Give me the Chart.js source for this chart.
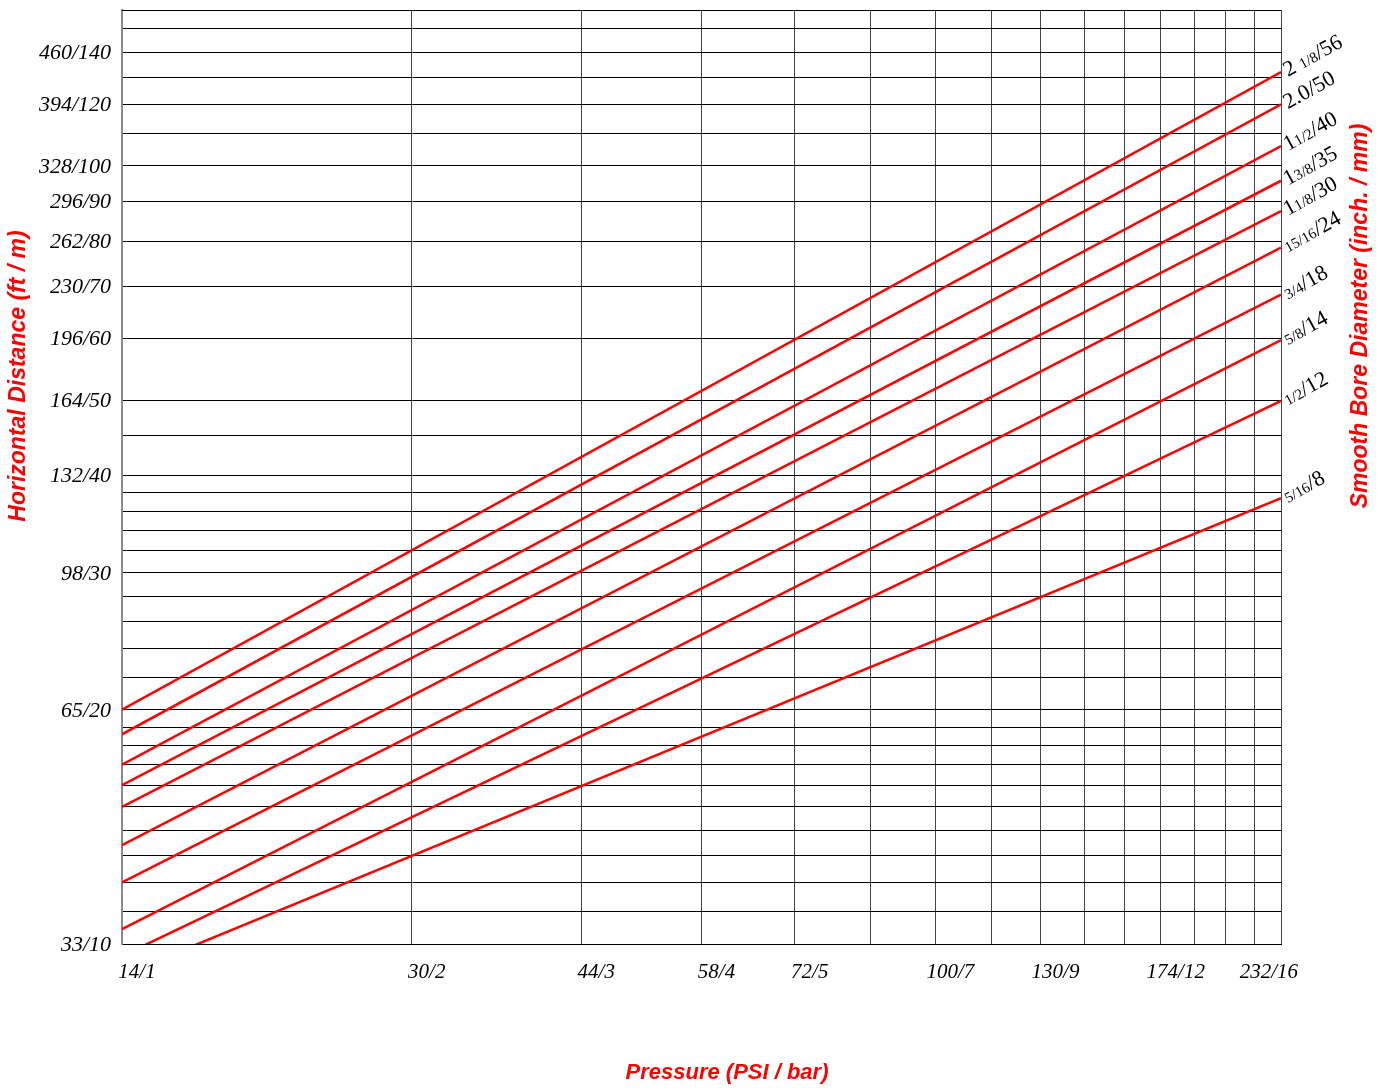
<!DOCTYPE html>
<html>
<head>
<meta charset="utf-8">
<script src="https://cdn.jsdelivr.net/npm/chart.js@4.4.0/dist/chart.umd.min.js"></script>
<style>
  body { margin: 0; background: #fff; }
  canvas { display: block; }
</style>
</head>
<body>
<canvas id="chart" width="1389" height="1091"></canvas>
<script>
// pressure in bar (x, log) and horizontal distance in m (y, log)
const xGrid = [1, 2, 3, 4, 5, 6, 7, 8, 9, 10, 11, 12, 13, 14, 15, 16]
const xTickBar = [1, 2, 3, 4, 5, 7, 9, 12, 16]
const xTickPsi = [14, 30, 44, 58, 72, 100, 130, 174, 232]

const yGrid = [10, 11, 12, 13, 14, 15, 16, 17, 18, 19, 20, 22, 24, 26, 28, 30, 32, 34, 36, 38, 40, 45,
               50, 60, 70, 80, 90, 100, 110, 120, 130, 140, 150]
const yTickM = [10, 20, 30, 40, 50, 60, 70, 80, 90, 100, 120, 140]
const yTickFt = [33, 65, 98, 132, 164, 196, 230, 262, 296, 328, 394, 460]

// each line: distance at 1 bar and at 16 bar
const pressureEnds = [1, 16]
const dist56 = [20, 132]
const dist50 = [18.6, 120]
const dist40 = [17.0, 106]
const dist35 = [16.0, 95.7]
const dist30 = [15.0, 87.5]
const dist24 = [13.4, 78.5]
const dist18 = [12.0, 68.3]
const dist14 = [10.45, 59.7]
const dist12 = [9.65, 49.9]
const dist8 = [9.12, 37.4]

// nozzle labels, [text, small]
const nozzleLabels = [
    [['2 ', 0], ['1/8', 1], ['/56', 0]],
    [['2.0/50', 0]],
    [['1', 0], ['1/2', 1], ['/40', 0]],
    [['1', 0], ['3/8', 1], ['/35', 0]],
    [['1', 0], ['1/8', 1], ['/30', 0]],
    [['15/16', 1], ['/24', 0]],
    [['3/4', 1], ['/18', 0]],
    [['5/8', 1], ['/14', 0]],
    [['1/2', 1], ['/12', 0]],
    [['5/16', 1], ['/8', 0]]
]
const allDist = [dist56, dist50, dist40, dist35, dist30, dist24, dist18, dist14, dist12, dist8]

const datasets = allDist.map(d => ({
    data: pressureEnds.map((p, i) => ({x: p, y: d[i]})),
    borderColor: '#ff0000',
    borderWidth: 2.5,
    pointRadius: 0,
    showLine: true,
    fill: false
}))

const serif = '"Liberation Serif", "Times New Roman", serif'
const sans = '"Liberation Sans", Arial, sans-serif'

const labelsPlugin = {
    id: 'labels',
    afterDraw(chart) {
        const ctx = chart.ctx
        const xs = chart.scales.x, ys = chart.scales.y
        const area = chart.chartArea
        ctx.save()

        // top border
        ctx.strokeStyle = '#000'
        ctx.lineWidth = 1
        ctx.beginPath()
        ctx.moveTo(area.left, area.top + 0.5)
        ctx.lineTo(area.right, area.top + 0.5)
        ctx.stroke()

        // y tick labels
        ctx.fillStyle = '#000'
        ctx.font = 'italic 22px ' + serif
        ctx.textAlign = 'right'
        ctx.textBaseline = 'middle'
        yTickM.forEach((m, i) => {
            ctx.fillText(yTickFt[i] + '/' + m, 111, ys.getPixelForValue(m) + 1)
        })

        // x tick labels
        ctx.font = 'italic 21px ' + serif
        ctx.textAlign = 'center'
        xTickBar.forEach((b, i) => {
            const t = xTickPsi[i] + '/' + b
            const w = ctx.measureText(t).width
            let cx = xs.getPixelForValue(b) + 15
            if (cx + w / 2 > 1298) cx = 1298 - w / 2
            ctx.fillText(t, cx, 972)
        })

        // nozzle labels at right end of each line
        ctx.textAlign = 'left'
        ctx.textBaseline = 'alphabetic'
        allDist.forEach((d, i) => {
            const px = xs.getPixelForValue(pressureEnds[1]) + 7
            const py = ys.getPixelForValue(d[1]) + 5
            ctx.save()
            ctx.translate(px, py)
            ctx.rotate(-29 * Math.PI / 180)
            let off = 0
            nozzleLabels[i].forEach(([txt, small]) => {
                ctx.font = (small ? '15px ' : '22px ') + serif
                ctx.fillText(txt, off, 0)
                off += ctx.measureText(txt).width
            })
            ctx.restore()
        })

        // axis titles
        ctx.fillStyle = '#ff0000'
        ctx.font = 'bold italic 22px ' + sans
        ctx.textAlign = 'center'
        ctx.textBaseline = 'middle'
        ctx.fillText('Pressure (PSI / bar)', 727, 1073)

        ctx.font = 'bold italic 23px ' + sans
        ctx.save()
        ctx.translate(19, 376)
        ctx.rotate(-Math.PI / 2)
        ctx.fillText('Horizontal Distance (ft / m)', 0, 0)
        ctx.restore()

        ctx.save()
        ctx.translate(1361, 316)
        ctx.rotate(-Math.PI / 2)
        ctx.fillText('Smooth Bore Diameter (inch. / mm)', 0, 0)
        ctx.restore()

        ctx.restore()
    }
}

new Chart(document.getElementById('chart').getContext('2d'), {
    type: 'scatter',
    data: {datasets: datasets},
    options: {
        responsive: false,
        animation: false,
        layout: {padding: {left: 122, right: 108, top: 10, bottom: 147}},
        plugins: {legend: {display: false}, tooltip: {enabled: false}},
        scales: {
            x: {
                type: 'logarithmic',
                min: 1,
                max: 16,
                afterBuildTicks: s => { s.ticks = xGrid.map(v => ({value: v})) },
                ticks: {display: false},
                grid: {color: '#444', lineWidth: 1, drawTicks: false},
                border: {color: '#000', width: 1}
            },
            y: {
                type: 'logarithmic',
                min: 10,
                max: 158.6,
                afterBuildTicks: s => { s.ticks = yGrid.map(v => ({value: v})) },
                ticks: {display: false},
                grid: {color: '#000', lineWidth: 1, drawTicks: false},
                border: {color: '#888', width: 2}
            }
        }
    },
    plugins: [labelsPlugin]
})
</script>
</body>
</html>
